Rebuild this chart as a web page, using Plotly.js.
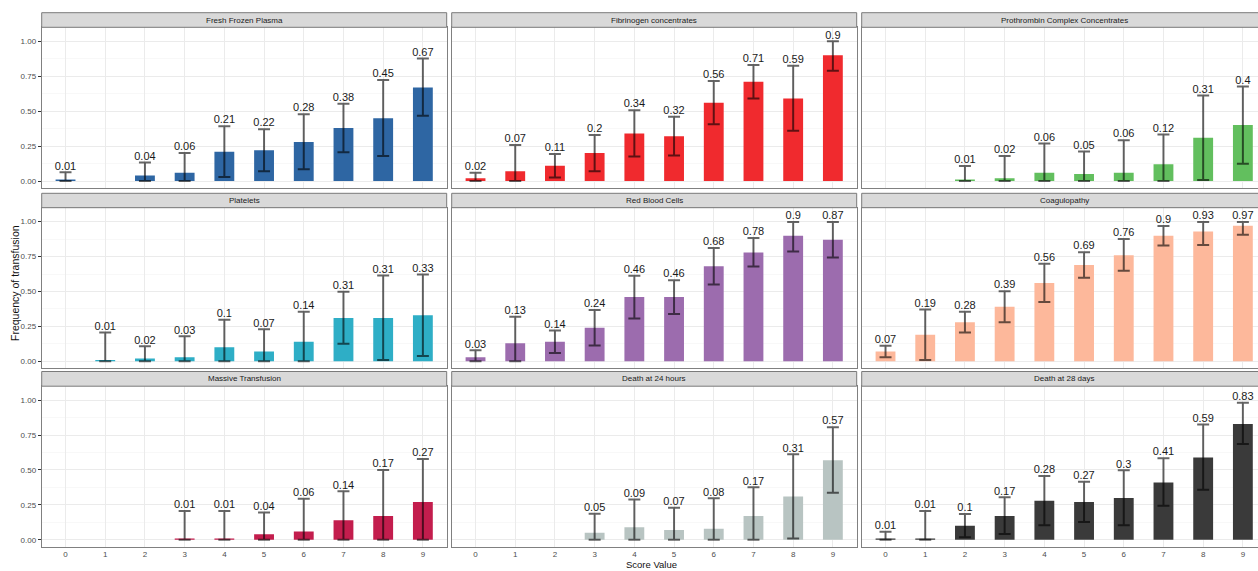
<!DOCTYPE html>
<html>
<head>
<meta charset="utf-8">
<script src="https://cdn.plot.ly/plotly-3.0.1.min.js"></script>
<style>
html,body{margin:0;padding:0;overflow:hidden;background:#fff;}
#chart{width:1272px;height:571px;}
</style>
</head>
<body>
<div id="chart"></div>
<script>
// ---------------- data ----------------
const scores = [0, 1, 2, 3, 4, 5, 6, 7, 8, 9];
const yTickVals = [0, 0.25, 0.5, 0.75, 1];
const yTickText = ["0.00", "0.25", "0.50", "0.75", "1.00"];
const xTickText = ["0", "1", "2", "3", "4", "5", "6", "7", "8", "9"];

const panelTitles = [
  "Fresh Frozen Plasma", "Fibrinogen concentrates", "Prothrombin Complex Concentrates",
  "Platelets", "Red Blood Cells", "Coagulopathy",
  "Massive Transfusion", "Death at 24 hours", "Death at 28 days"
];
const panelColors = [
  "#2E66A3", "#F02A2E", "#62BF5E",
  "#2EAEC6", "#9C6CAE", "#FDB89B",
  "#C31D4D", "#B8C4C2", "#3A3A3A"
];

const ffpValue = [0.01, null, 0.04, 0.06, 0.21, 0.22, 0.28, 0.38, 0.45, 0.67];
const ffpLower = [0, null, 0, 0, 0.029, 0.069, 0.084, 0.206, 0.179, 0.467];
const ffpUpper = [0.062, null, 0.132, 0.20, 0.392, 0.371, 0.478, 0.553, 0.722, 0.876];

const fibValue = [0.02, 0.07, 0.11, 0.2, 0.34, 0.32, 0.56, 0.71, 0.59, 0.9];
const fibLower = [0, 0, 0.026, 0.069, 0.175, 0.182, 0.407, 0.591, 0.359, 0.789];
const fibUpper = [0.06, 0.258, 0.194, 0.33, 0.507, 0.459, 0.715, 0.83, 0.825, 1.0];

const pccValue = [null, null, 0.01, 0.02, 0.06, 0.05, 0.06, 0.12, 0.31, 0.4];
const pccLower = [null, null, 0, 0, 0, 0, 0, 0, 0.007, 0.124];
const pccUpper = [null, null, 0.108, 0.179, 0.268, 0.211, 0.292, 0.333, 0.612, 0.677];

const pltValue = [null, 0.01, 0.02, 0.03, 0.1, 0.07, 0.14, 0.31, 0.31, 0.33];
const pltLower = [null, 0, 0, 0, 0, 0, 0, 0.126, 0.01, 0.038];
const pltUpper = [null, 0.207, 0.107, 0.179, 0.298, 0.229, 0.355, 0.498, 0.614, 0.621];

const rbcValue = [0.03, 0.13, 0.14, 0.24, 0.46, 0.46, 0.68, 0.78, 0.9, 0.87];
const rbcLower = [0, 0, 0.06, 0.114, 0.307, 0.338, 0.55, 0.679, 0.786, 0.743];
const rbcUpper = [0.079, 0.319, 0.221, 0.367, 0.612, 0.581, 0.812, 0.883, 0.998, 0.998];

const coagValue = [0.07, 0.19, 0.28, 0.39, 0.56, 0.69, 0.76, 0.9, 0.93, 0.97];
const coagLower = [0.029, 0.01, 0.207, 0.279, 0.424, 0.598, 0.648, 0.829, 0.833, 0.907];
const coagUpper = [0.112, 0.371, 0.355, 0.502, 0.698, 0.781, 0.876, 0.969, 0.998, 0.998];

const mtValue = [null, null, null, 0.01, 0.01, 0.04, 0.06, 0.14, 0.17, 0.27];
const mtLower = [null, null, null, 0, 0, 0, 0, 0, 0, 0];
const mtUpper = [null, null, null, 0.206, 0.206, 0.196, 0.294, 0.347, 0.5, 0.579];

const d24Value = [null, null, null, 0.05, 0.09, 0.07, 0.08, 0.17, 0.31, 0.57];
const d24Lower = [null, null, null, 0, 0, 0, 0, 0, 0.01, 0.337];
const d24Upper = [null, null, null, 0.187, 0.289, 0.23, 0.297, 0.376, 0.612, 0.806];

const d28Value = [0.01, 0.01, 0.1, 0.17, 0.28, 0.27, 0.3, 0.41, 0.59, 0.83];
const d28Lower = [0, 0, 0.019, 0.041, 0.105, 0.127, 0.105, 0.244, 0.359, 0.687];
const d28Upper = [0.057, 0.206, 0.184, 0.304, 0.457, 0.416, 0.498, 0.584, 0.825, 0.981];

const panelValues = [ffpValue, fibValue, pccValue, pltValue, rbcValue, coagValue, mtValue, d24Value, d28Value];
const panelLowers = [ffpLower, fibLower, pccLower, pltLower, rbcLower, coagLower, mtLower, d24Lower, d28Lower];
const panelUppers = [ffpUpper, fibUpper, pccUpper, pltUpper, rbcUpper, coagUpper, mtUpper, d24Upper, d28Upper];

// ---------------- layout geometry (pixels) ----------------
const W = 1272, H = 571;
const colPx = [[41.7, 446.7], [451.7, 856.7], [861.7, 1266.7]];
const rowPx = [[27.3, 188.0], [207.7, 368.3], [386.2, 546.8]];
const stripPx = [[12.7, 27.3], [193.3, 207.7], [371.5, 386.2]];

const font = "Liberation Sans, Arial, Helvetica, sans-serif";
const traces = [];
const layout = {
  width: W, height: H,
  margin: {l: 0, r: 0, t: 0, b: 0, autoexpand: false},
  paper_bgcolor: "#ffffff",
  plot_bgcolor: "#ffffff",
  showlegend: false,
  font: {family: font, color: "#4D4D4D"},
  bargap: 0.5,
  shapes: [],
  annotations: []
};

for (let i = 0; i < 9; i++) {
  const r = Math.floor(i / 3), c = i % 3;
  const n = i + 1;
  const xa = "x" + (n === 1 ? "" : n);
  const ya = "y" + (n === 1 ? "" : n);
  const vals = panelValues[i], lo = panelLowers[i], hi = panelUppers[i];
  const plus = vals.map((v, k) => v === null ? null : hi[k] - v);
  const minus = vals.map((v, k) => v === null ? null : v - lo[k]);

  traces.push({
    type: "bar", x: scores, y: vals, xaxis: xa, yaxis: ya,
    width: 0.5,
    marker: {color: panelColors[i], line: {width: 0}},
    error_y: {type: "data", symmetric: false, array: plus, arrayminus: minus,
              color: "rgba(0,0,0,0.6)", thickness: 2, width: 6},
    hoverinfo: "x+y"
  });
  traces.push({
    type: "scatter", mode: "text", x: scores, y: hi, xaxis: xa, yaxis: ya,
    text: vals.map(v => v === null ? "" : String(v)),
    textposition: "top center",
    textfont: {family: font, size: 11, color: "#1A1A1A"},
    cliponaxis: false,
    hoverinfo: "skip"
  });

  const xKey = "xaxis" + (n === 1 ? "" : n);
  const yKey = "yaxis" + (n === 1 ? "" : n);
  layout[xKey] = {
    domain: [colPx[c][0] / W, colPx[c][1] / W],
    anchor: ya,
    range: [-0.6, 9.6],
    tickmode: "array", tickvals: scores, ticktext: xTickText,
    showticklabels: r === 2,
    ticks: "",
    tickfont: {family: font, size: 8, color: "#4D4D4D"},
    showgrid: true, gridcolor: "#EBEBEB", gridwidth: 1,
    zeroline: false,
    showline: true, mirror: true, linecolor: "#808080", linewidth: 1,
    fixedrange: true
  };
  layout[yKey] = {
    domain: [1 - rowPx[r][1] / H, 1 - rowPx[r][0] / H],
    anchor: xa,
    range: [-0.05, 1.10],
    tickmode: "array", tickvals: yTickVals, ticktext: yTickText,
    showticklabels: c === 0,
    ticks: c === 0 ? "outside" : "",
    ticklen: 3, tickcolor: "#333333", tickwidth: 1,
    tickfont: {family: font, size: 8, color: "#4D4D4D"},
    showgrid: true, gridcolor: "#EBEBEB", gridwidth: 1,
    minor: {tickvals: [0.125, 0.375, 0.625, 0.875], showgrid: true, gridcolor: "#F3F3F3", gridwidth: 0.6},
    zeroline: false,
    showline: true, mirror: true, linecolor: "#808080", linewidth: 1,
    fixedrange: true
  };

  // strip
  layout.shapes.push({
    type: "rect", xref: "paper", yref: "paper",
    x0: colPx[c][0] / W, x1: colPx[c][1] / W,
    y0: 1 - stripPx[r][1] / H, y1: 1 - stripPx[r][0] / H,
    fillcolor: "#D9D9D9", line: {color: "#7A7A7A", width: 1}, layer: "above"
  });
  layout.annotations.push({
    xref: "paper", yref: "paper",
    x: (colPx[c][0] + colPx[c][1]) / 2 / W,
    y: 1 - (stripPx[r][0] + stripPx[r][1]) / 2 / H,
    text: panelTitles[i], showarrow: false,
    xanchor: "center", yanchor: "middle",
    font: {family: font, size: 8, color: "#1A1A1A"}
  });
}

layout.annotations.push({
  xref: "paper", yref: "paper", x: 15 / W, y: 1 - 283 / H,
  text: "Frequency of transfusion", showarrow: false, textangle: -90,
  xanchor: "center", yanchor: "middle",
  font: {family: font, size: 10.5, color: "#111111"}
});
layout.annotations.push({
  xref: "paper", yref: "paper", x: 651 / W, y: 0,
  text: "Score Value", showarrow: false,
  xanchor: "center", yanchor: "bottom", borderpad: 0,
  font: {family: font, size: 9.5, color: "#111111"}
});

Plotly.newPlot("chart", traces, layout, {displayModeBar: false, staticPlot: true});
</script>
</body>
</html>
